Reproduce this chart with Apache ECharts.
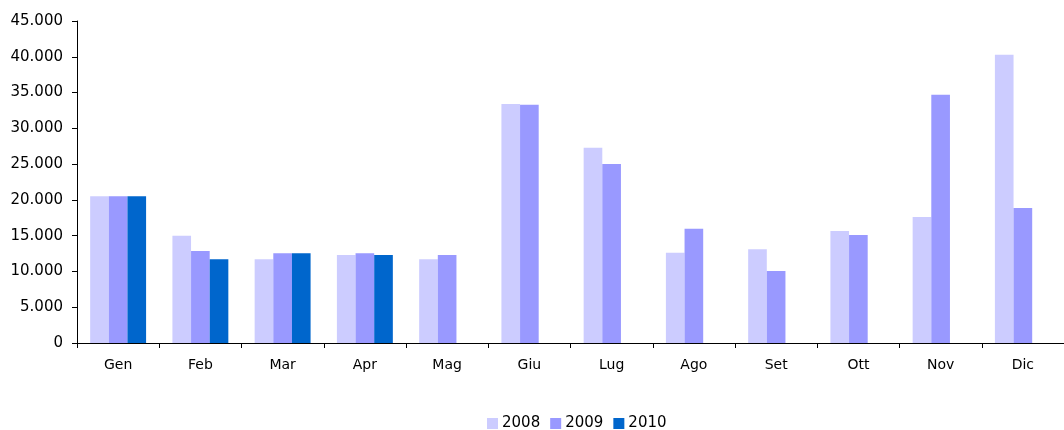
<!DOCTYPE html>
<html>
<head>
<meta charset="utf-8">
<script src="https://cdn.jsdelivr.net/npm/echarts@6/dist/echarts.min.js"></script>
<style>
  html, body { margin: 0; padding: 0; background: #fff; }
  #chart { width: 1064px; height: 430px; }
</style>
</head>
<body>
<div id="chart"></div>
<script>
const months = ['Gen', 'Feb', 'Mar', 'Apr', 'Mag', 'Giu', 'Lug', 'Ago', 'Set', 'Ott', 'Nov', 'Dic'];
const years = ['2008', '2009', '2010'];
const values2008 = [20500, 15000, 11700, 12300, 11700, 33400, 27300, 12600, 13100, 15650, 17600, 40300];
const values2009 = [20500, 12850, 12550, 12550, 12300, 33300, 25000, 15950, 10050, 15100, 34700, 18850];
const values2010 = [20500, 11700, 12550, 12300, null, null, null, null, null, null, null, null];
const colors = ['#ccccff', '#9999ff', '#0066cc'];

// Italian thousands separator: 45000 -> 45.000
const fmt = v => String(v).replace(/\B(?=(\d{3})+(?!\d))/g, '.');

const chart = echarts.init(document.getElementById('chart'), null, { renderer: 'canvas' });

chart.setOption({
  animation: false,
  color: colors,
  textStyle: { fontFamily: 'DejaVu Sans, sans-serif' },
  grid: { left: 77, right: -9, top: 21, bottom: 87 },
  legend: {
    top: 411,
    left: 482,
    icon: 'rect',
    itemWidth: 11,
    itemHeight: 11,
    itemGap: 10,
    textStyle: { fontSize: 15, color: '#000', padding: [0, 0, 0, -1] },
    data: years
  },
  xAxis: {
    type: 'category',
    data: months,
    axisLine: { lineStyle: { color: '#000', width: 1 } },
    axisTick: { show: true, length: 5, lineStyle: { color: '#000' } },
    axisLabel: { color: '#000', fontSize: 14, margin: 15 }
  },
  yAxis: {
    type: 'value',
    min: 0,
    max: 45000,
    interval: 5000,
    splitLine: { show: false },
    axisLine: { show: true, lineStyle: { color: '#000', width: 1 } },
    axisTick: { show: true, length: 5, lineStyle: { color: '#000' } },
    axisLabel: { color: '#000', fontSize: 15, margin: 14, formatter: fmt }
  },
  series: [
    { name: years[0], type: 'bar', data: values2008, barGap: 0, barCategoryGap: '32%' },
    { name: years[1], type: 'bar', data: values2009, barGap: 0, barCategoryGap: '32%' },
    { name: years[2], type: 'bar', data: values2010, barGap: 0, barCategoryGap: '32%' }
  ]
});
</script>
</body>
</html>
